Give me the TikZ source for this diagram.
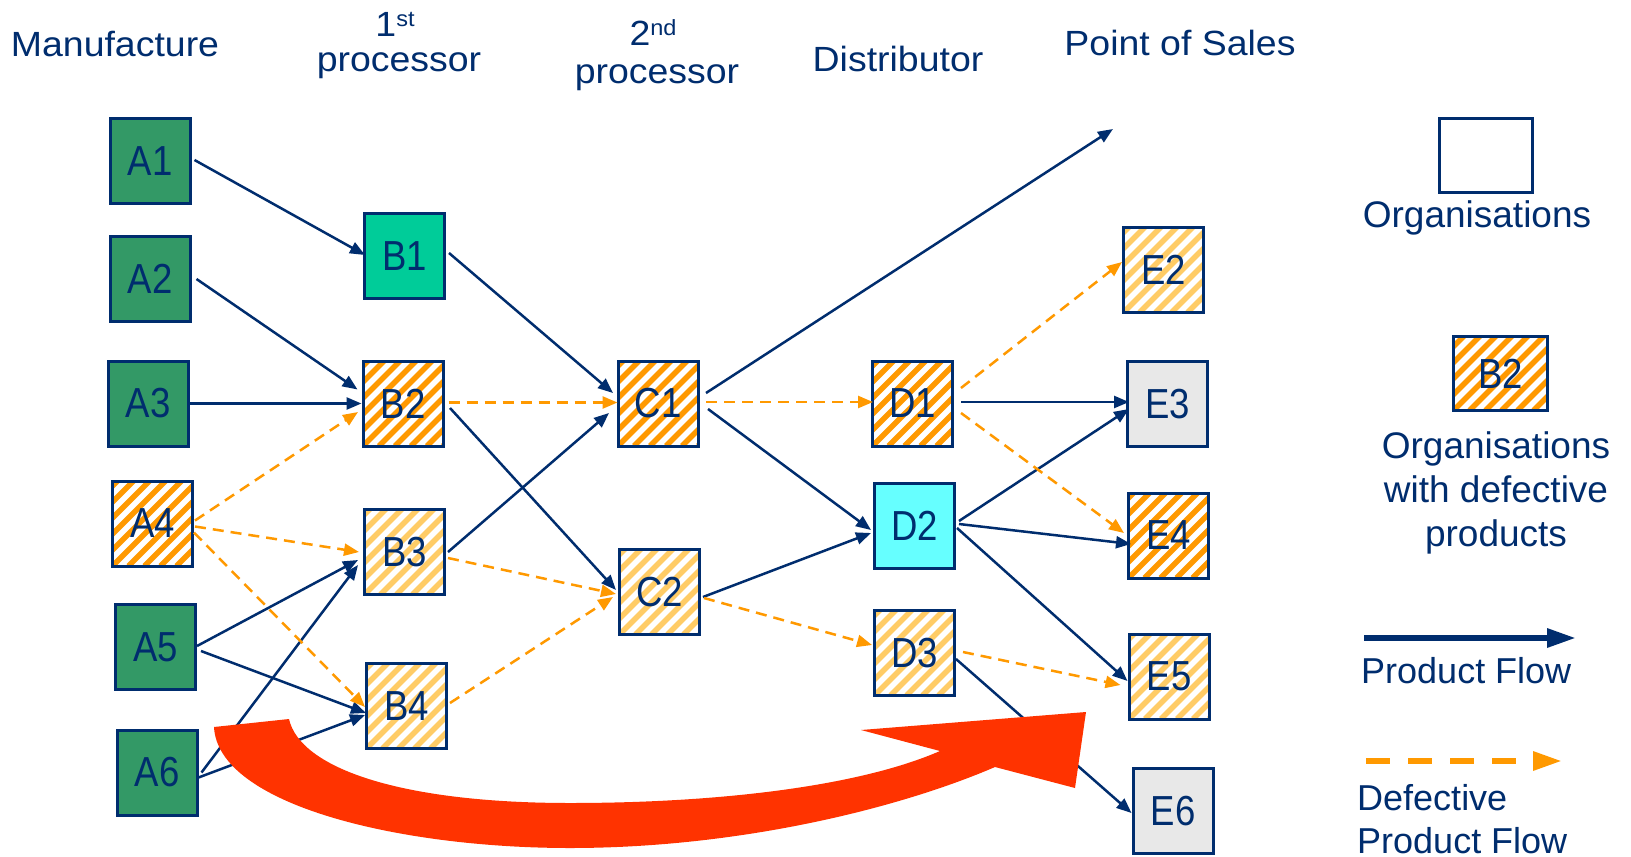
\documentclass[tikz,border=0pt]{standalone}
\usepackage{fontspec}
\setmainfont{Liberation Sans}
\newfontfamily\boxfont{Liberation Sans}[FakeStretch=0.87]
\newfontfamily\hdrfont{Liberation Sans}[FakeStretch=1.07]
\usetikzlibrary{arrows.meta,calc}
\definecolor{navy}{RGB}{0,45,110}
\definecolor{mfgreen}{RGB}{51,153,102}
\definecolor{procgreen}{RGB}{0,204,153}
\definecolor{dcyan}{RGB}{102,255,255}
\definecolor{lgrey}{RGB}{232,232,232}
\definecolor{strongor}{RGB}{255,153,0}
\definecolor{paleor}{RGB}{255,204,102}
\definecolor{redarrow}{RGB}{255,51,0}
\newcommand\supr[1]{\raisebox{10pt}{\fontsize{22}{22}\selectfont #1}}
\begin{document}
\begin{tikzpicture}[x=1pt,y=-1pt,
  org/.style={draw=navy, line width=3pt, minimum width=80pt, minimum height=85pt,
    inner sep=0pt, text=navy, font=\boxfont\fontsize{42}{42}\selectfont},
  mfg/.style={org, fill=mfgreen},
  hatch/.style={org, fill=white, path picture={
    \foreach \i in {-96,-80,...,96}{
      \draw[line width=5.5pt,#1] ([xshift=\i pt]path picture bounding box.south west) -- ++(110pt,110pt);}}},
  hatchstrong/.style={hatch=strongor},
  hatchpale/.style={hatch=paleor},
  flow/.style={navy, line width=2.5pt, -{Triangle[length=15pt,width=12pt]}},
  defect/.style={strongor, line width=2.5pt, dash pattern=on 11pt off 7pt, -{Triangle[length=15pt,width=12pt]}},
  hdr/.style={text=navy, inner sep=0pt, font=\hdrfont\fontsize{35}{35}\selectfont},
  leg/.style={text=navy, inner sep=0pt, font=\fontsize{37}{37}\selectfont}
]
\useasboundingbox[fill=white] (0,0) rectangle (1631,857);

% headers
\node[hdr, anchor=base] (h1) at (115,56) {Manufacture};
\node[hdr, anchor=base] (h2a) at (395,36) {1\supr{st}};
\node[hdr, anchor=base] (h2b) at (399,71) {processor};
\node[hdr, anchor=base] (h3a) at (653,45) {2\supr{nd}};
\node[hdr, anchor=base] (h3b) at (657,83) {processor};
\node[hdr, anchor=base] (h4) at (898,71) {Distributor};
\node[hdr, anchor=base] (h5) at (1180,55) {Point of Sales};

% organisations
\node[mfg] (A1) at (150,161) {A1};
\node[mfg] (A2) at (150,279) {A2};
\node[mfg] (A3) at (148,403.5) {A3};
\node[hatchstrong] (A4) at (152.5,523.5) {A4};
\node[mfg] (A5) at (155.5,647) {A5};
\node[mfg] (A6) at (157,772.5) {A6};
\node[org, fill=procgreen] (B1) at (404.5,256) {B1};
\node[hatchstrong] (B2) at (403,403.5) {B2};
\node[hatchpale] (B3) at (404.5,552) {B3};
\node[hatchpale] (B4) at (406.5,706) {B4};
\node[hatchstrong] (C1) at (658,403.5) {C1};
\node[hatchpale] (C2) at (659.5,592) {C2};
\node[hatchstrong] (D1) at (912.5,403.5) {D1};
\node[org, fill=dcyan] (D2) at (914.5,526) {D2};
\node[hatchpale] (D3) at (914.5,653) {D3};
\node[hatchpale] (E2) at (1163.5,270) {E2};
\node[org, fill=lgrey] (E3) at (1167.5,404) {E3};
\node[hatchstrong] (E4) at (1168.5,535.5) {E4};
\node[hatchpale] (E5) at (1169,676.5) {E5};
\node[org, fill=lgrey] (E6) at (1173,811) {E6};
\coordinate (E1) at (1113,129);

% product flows
\draw[flow] ($(A1.east)+(3,-1)$) -- ($(B1.west)+(2,-1)$);
\draw[flow] ($(A2.east)+(5,0)$) -- ($(B2.west)+(-4,-14)$);
\draw[flow] (A3.east) -- (B2.west);
\draw[flow] ($(A5.east)+(0,-1)$) -- ($(B3.west)+(-5,8)$);
\draw[flow] ($(A6.east)+(3,0)$) -- ($(B3.west)+(-5,13)$);
\draw[flow] ($(A5.east)+(4,4)$) -- ($(B4.west)+(1,7)$);
\draw[flow] ($(A6.east)+(0,5)$) -- ($(B4.west)+(0,9)$);
\draw[flow] ($(B1.east)+(3,-3)$) -- ($(C1.west)+(-3.5,-10.5)$);
\draw[flow] ($(B3.east)+(2,0)$) -- ($(C1.west)+(-7.5,9.5)$);
\draw[flow] ($(B2.east)+(5.5,4.5)$) -- ($(C2.west)+(-2,-2)$);
\draw[flow] ($(C1.east)+(6.5,-10.5)$) -- (E1);
\draw[flow] ($(C1.east)+(8.5,5.5)$) -- ($(D2.west)+(-2,4)$);
\draw[flow] ($(C2.east)+(2,5)$) -- ($(D2.west)+(-2,7)$);
\draw[flow] ($(D1.east)+(7,-1.5)$) -- ($(E3.west)+(3,-2)$);
\draw[flow] ($(D2.east)+(3,-5)$) -- ($(E3.west)+(3,5)$);
\draw[flow] ($(D2.east)+(3,-2)$) -- ($(E4.west)+(4,8.5)$);
\draw[flow] ($(D2.east)+(1,2)$) -- ($(E5.west)+(0,4.5)$);
\draw[flow] ($(D3.east)+(0,6)$) -- ($(E6.west)+(0,2)$);

% defective flows
\draw[defect] ($(A4.east)+(1,-3)$) -- ($(B2.west)+(-3.5,8.5)$);
\draw[defect] ($(A4.east)+(1,3)$) -- ($(B3.west)+(-4,0)$);
\draw[defect] ($(A4.east)+(0,9)$) -- ($(B4.west)+(0,1)$);
\draw[defect] ($(B2.east)+(4,-1)$) -- ($(C1.west)+(1,-1)$);
\draw[defect] ($(B3.east)+(2,6)$) -- ($(C2.west)+(-2,2)$);
\draw[defect] ($(B4.east)+(2,-3)$) -- ($(C2.west)+(-5,5)$);
\draw[defect] ($(C1.east)+(6.5,-1.5)$) -- ($(D1.west)+(2,-1.5)$);
\draw[defect] ($(C2.east)+(3,6)$) -- ($(D3.west)+(-1,-8)$);
\draw[defect] ($(D1.east)+(7,-15.5)$) -- ($(E2.west)+(0,-8)$);
\draw[defect] ($(D1.east)+(7,9.5)$) -- ($(E4.west)+(-3,-2.5)$);
\draw[defect] ($(D3.east)+(7,-1)$) -- ($(E5.west)+(-7,8.5)$);

% big red arrow
\fill[redarrow] (214,727) .. controls (218,805) and (400,848) .. (570,848)
  .. controls (740,848) and (900,808) .. (995,767) -- (1075,788) -- (1086,712)
  -- (861,730) -- (940,751) .. controls (860,786) and (720,803) .. (570,803)
  .. controls (400,803) and (300,768) .. (289,719) -- cycle;

% legend
\node[org, minimum width=93pt, minimum height=74pt, fill=white] (LO) at (1486,155.5) {};
\node[leg, anchor=base] (LOt) at (1477,227) {Organisations};
\node[hatchstrong, minimum width=94pt, minimum height=74pt] (LB) at (1500.5,373.5) {B2};
\node[leg, anchor=base] (LBt1) at (1496,458) {Organisations};
\node[leg, anchor=base] (LBt2) at (1496,502) {with defective};
\node[leg, anchor=base] (LBt3) at (1496,546) {products};
\coordinate (PF1) at (1364,638);
\coordinate (PF2) at (1576,638);
\draw[navy, line width=6pt, -{Triangle[length=29pt,width=18pt]}] (PF1) -- (PF2);
\node[leg, anchor=base west, font=\fontsize{36}{36}\selectfont] (PFt) at (1361,683) {Product Flow};
\coordinate (DF1) at (1366,761);
\coordinate (DF2) at (1562,761);
\draw[strongor, line width=6pt, dash pattern=on 24pt off 18pt, -{Triangle[length=29pt,width=18pt]}] (DF1) -- (DF2);
\node[leg, anchor=base west, font=\fontsize{36}{36}\selectfont] (DFt1) at (1357,810) {Defective};
\node[leg, anchor=base west, font=\fontsize{36}{36}\selectfont] (DFt2) at (1357,853) {Product Flow};
\end{tikzpicture}
\end{document}
